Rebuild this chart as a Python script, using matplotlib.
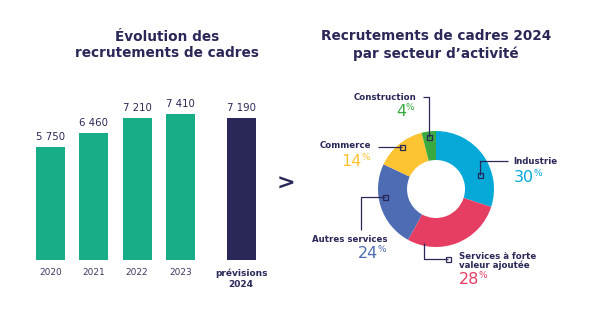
import matplotlib
matplotlib.use("Agg")
import matplotlib.pyplot as plt

# ---- data ----
years = ["2020", "2021", "2022", "2023", "prévisions\n2024"]
recrutements = [5750, 6460, 7210, 7410, 7190]
value_labels = ["5 750", "6 460", "7 210", "7 410", "7 190"]

secteurs = ["Industrie", "Services à forte\nvaleur ajoutée", "Autres services", "Commerce", "Construction"]
parts = [30, 28, 24, 14, 4]
sect_colors = ["#05a9d8", "#e63e62", "#4d6cb3", "#fcc431", "#3aaa40"]

NAVY = "#2a2858"
GREEN = "#16ad87"
FONT = "DejaVu Sans"
plt.rcParams["font.family"] = [FONT]

W, H = 600, 323
fig = plt.figure(figsize=(W / 100, H / 100), dpi=100)
fig.patch.set_facecolor("white")


def fx(px):
    return px / W


def fy(py):
    return 1 - py / H


# ---- bar chart ----
bar_bottom, bar_top_px = 260, 100
scale = 146 / 7410  # px per unit
ax = fig.add_axes([fx(20), fy(bar_bottom), fx(260), (bar_bottom - bar_top_px) / H])
xpos = [0, 1, 2, 3, 4.4]
x0 = 50.5
unit = 43.3
ax.set_xlim((20 - x0) / unit, (280 - x0) / unit)
ax.set_ylim(0, (bar_bottom - bar_top_px) / scale)
bar_colors = [GREEN] * 4 + [NAVY]
ax.bar(xpos, recrutements, width=0.67, color=bar_colors)
for x, v, lab in zip(xpos, recrutements, value_labels):
    ax.annotate(lab, xy=(x, v), xytext=(0, 5), textcoords="offset pixels",
                ha="center", va="bottom", fontsize=7.3, color=NAVY)
for i, (x, yl) in enumerate(zip(xpos, years)):
    bold = i == 4
    ax.annotate(yl, xy=(x, 0), xytext=(0, -8), textcoords="offset pixels",
                ha="center", va="top", fontsize=6.5,
                color=NAVY if bold else "#3b3a63",
                fontweight="bold" if bold else "normal", linespacing=1.35)
ax.axis("off")

# ---- donut ----
cx, cy, R = 436, 189, 58
ax2 = fig.add_axes([fx(cx - 70), fy(cy + 70), fx(140), 140 / H])
ax2.pie(parts, colors=sect_colors, startangle=90, counterclock=False, radius=R,
        center=(0, 0), wedgeprops=dict(width=R / 2, linewidth=0))
ax2.set_xlim(-70, 70)
ax2.set_ylim(-70, 70)
ax2.set_aspect("equal")
ax2.axis("off")

# ---- overlay in pixel coordinates ----
ov = fig.add_axes([0, 0, 1, 1], facecolor="none")
ov.set_xlim(0, W)
ov.set_ylim(H, 0)
ov.axis("off")

ov.text(167, 45, "Évolution des\nrecrutements de cadres", ha="center", va="center",
        fontsize=9.8, fontweight="heavy", color=NAVY, linespacing=1.22)
ov.text(436, 45, "Recrutements de cadres 2024\npar secteur d\u2019activité", ha="center",
        va="center", fontsize=9.8, fontweight="heavy", color=NAVY, linespacing=1.22)
ov.text(286, 184, ">", ha="center", va="center", fontsize=16, fontweight="bold", color=NAVY)

# leader lines: (path, label pos, label ha, pct pos)
layout = {
    "Industrie": ([(480, 175), (480, 161), (508, 161)], (513, 161), "left", (514, 178)),
    "Services à forte\nvaleur ajoutée": ([(448, 259), (424, 259), (424, 243)], (459, 261), "left", (459, 280)),
    "Autres services": ([(385, 197), (361, 197), (361, 230)], (387, 239), "right", (378, 254)),
    "Commerce": ([(402, 147), (378, 147)], (371, 146), "right", (362, 161)),
    "Construction": ([(429, 137), (429, 97), (423, 97)], (416, 97), "right", (406, 112)),
}

for name, p, col in zip(secteurs, parts, sect_colors):
    path, (lx, ly), ha, (px_, py_) = layout[name]
    xs = [q[0] for q in path]
    ys = [q[1] for q in path]
    ov.plot(xs, ys, color=NAVY, lw=0.9, solid_capstyle="butt")
    ov.plot(xs[0], ys[0], marker="s", markersize=3.6, markerfacecolor="none",
            markeredgecolor=NAVY, markeredgewidth=0.9)
    ov.text(lx, ly, name, ha=ha, va="center", fontsize=6.2, fontweight="bold",
            color=NAVY, linespacing=1.05)
    num = ov.text(px_, py_, str(p), ha="left" if ha == "left" else "right", va="center",
                  fontsize=11.5, color=col)
    ov.annotate("%", xy=(1, 1), xycoords=num, xytext=(-1, 1), textcoords="offset pixels",
                ha="left", va="top", fontsize=6.5, color=col)

fig.savefig("out.png", dpi=100, facecolor="white")
